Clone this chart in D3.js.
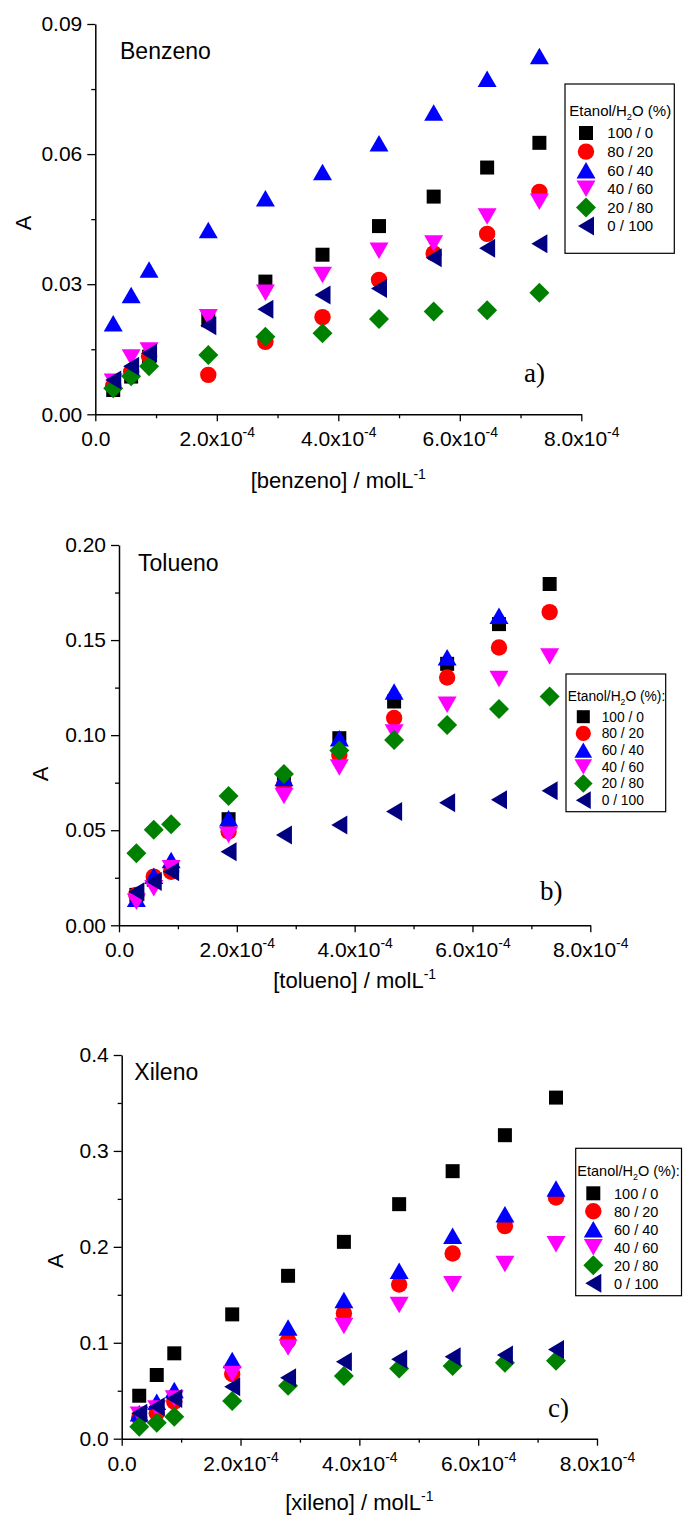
<!DOCTYPE html>
<html>
<head>
<meta charset="utf-8">
<script src="https://cdn.jsdelivr.net/npm/d3@7"></script>
<style>
  body { margin: 0; background: #fff; }
  svg { display: block; background: #fff; }
  text { font-family: "Liberation Sans", Arial, sans-serif; fill: #000; }
</style>
</head>
<body>
<svg id="chart" width="683" height="1528"></svg>
<script>
// Hydrocarbon concentration (mol/L), shared by all three panels
const concentrations = [2.95e-5, 5.9e-5, 8.85e-5, 1.86e-4, 2.80e-4, 3.74e-4, 4.67e-4, 5.57e-4, 6.45e-4, 7.31e-4];

// Ethanol / water mixtures (legend entries)
const mixtures = ["100 / 0", "80 / 20", "60 / 40", "40 / 60", "20 / 80", "0 / 100"];
const mixtureColors = ["#000000", "#ff0000", "#0000ff", "#ff00ff", "#008000", "#000080"];
const mixtureSymbols = ["square", "circle", "triangleUp", "triangleDown", "diamond", "triangleLeft"];

// Absorbance, benzene
const benzeno_100_0 = [0.0056, 0.0087, 0.0133, 0.0217, 0.0306, 0.0368, 0.0434, 0.0502, 0.0569, 0.0626];
const benzeno_80_20 = [0.0066, 0.0098, 0.0134, 0.0091, 0.0167, 0.0224, 0.0310, 0.0371, 0.0416, 0.0513];
const benzeno_60_40 = [0.0210, 0.0275, 0.0334, 0.0425, 0.0498, 0.0559, 0.0625, 0.0696, 0.0774, 0.0826];
const benzeno_40_60 = [0.0075, 0.0131, 0.0147, 0.0224, 0.0280, 0.0321, 0.0377, 0.0394, 0.0456, 0.0490];
const benzeno_20_80 = [0.0060, 0.0088, 0.0111, 0.0137, 0.0179, 0.0187, 0.0220, 0.0237, 0.0240, 0.0280];
const benzeno_0_100 = [0.0079, 0.0111, 0.0141, 0.0204, 0.0242, 0.0275, 0.0290, 0.0361, 0.0383, 0.0393];

// Absorbance, toluene
const tolueno_100_0 = [0.0160, 0.0240, 0.0300, 0.0558, 0.0770, 0.0984, 0.1177, 0.1375, 0.1584, 0.1795];
const tolueno_80_20 = [0.0160, 0.0256, 0.0282, 0.0493, 0.0738, 0.0896, 0.1090, 0.1303, 0.1461, 0.1647];
const tolueno_60_40 = [0.0139, 0.0260, 0.0344, 0.0563, 0.0774, 0.0984, 0.1230, 0.1410, 0.1628, null];
const tolueno_40_60 = [0.0124, 0.0195, 0.0300, 0.0475, 0.0680, 0.0830, 0.1014, 0.1160, 0.1295, 0.1414];
const tolueno_20_80 = [0.0379, 0.0502, 0.0532, 0.0680, 0.0796, 0.0919, 0.0975, 0.1054, 0.1137, 0.1203];
const tolueno_0_100 = [0.0177, 0.0230, 0.0282, 0.0387, 0.0475, 0.0528, 0.0598, 0.0645, 0.0660, 0.0708];

// Absorbance, xylene
const xileno_100_0 = [0.0448, 0.0664, 0.0890, 0.1296, 0.1698, 0.2052, 0.2445, 0.2789, 0.3164, 0.3556];
const xileno_80_20 = [0.0220, 0.0265, 0.0385, 0.0674, 0.1020, 0.1306, 0.1608, 0.1931, 0.2216, 0.2515];
const xileno_60_40 = [0.0265, 0.0385, 0.0507, 0.0820, 0.1160, 0.1445, 0.1750, 0.2115, 0.2340, 0.2608];
const xileno_40_60 = [0.0250, 0.0316, 0.0420, 0.0674, 0.0952, 0.1174, 0.1393, 0.1611, 0.1820, 0.2028];
const xileno_20_80 = [0.0125, 0.0167, 0.0229, 0.0393, 0.0552, 0.0653, 0.0733, 0.0757, 0.0792, 0.0813];
const xileno_0_100 = [0.0265, 0.0333, 0.0420, 0.0542, 0.0635, 0.0802, 0.0827, 0.0854, 0.0872, 0.0931];

// Tick values and labels
const xTicks = [0, 2e-4, 4e-4, 6e-4, 8e-4];
const xMinorTicks = [1e-4, 3e-4, 5e-4, 7e-4];
const xTickBase = ["0.0", "2.0x10", "4.0x10", "6.0x10", "8.0x10"];
const xTickExp = ["", "-4", "-4", "-4", "-4"];

const benzenoYTicks = [0, 0.03, 0.06, 0.09];
const benzenoYLabels = ["0.00", "0.03", "0.06", "0.09"];
const benzenoYMinor = [0.015, 0.045, 0.075];

const toluenoYTicks = [0, 0.05, 0.10, 0.15, 0.20];
const toluenoYLabels = ["0.00", "0.05", "0.10", "0.15", "0.20"];
const toluenoYMinor = [0.025, 0.075, 0.125, 0.175];

const xilenoYTicks = [0, 0.1, 0.2, 0.3, 0.4];
const xilenoYLabels = ["0.0", "0.1", "0.2", "0.3", "0.4"];
const xilenoYMinor = [0.05, 0.15, 0.25, 0.35];

// Panel layout
const panels = [
  {
    left: 95.3, right: 581.3, top: 24, bottom: 414.3, yMax: 0.09,
    yTicks: benzenoYTicks, yLabels: benzenoYLabels, yMinor: benzenoYMinor,
    series: [benzeno_100_0, benzeno_80_20, benzeno_60_40, benzeno_40_60, benzeno_20_80, benzeno_0_100],
    name: "Benzeno", nameX: 120, nameY: 59,
    xTitle: "[benzeno] / molL", xTitleY: 488, yTitleX: 30.5, yTitleY: 223,
    tag: "a)", tagX: 524, tagY: 382,
    legend: { x: 565, y: 84, w: 109.3, h: 169.3, title: "Etanol/H", titleRest: "O (%)", titleX: 569.3, titleY: 116,
              first: 133, step: 18.6, symX: 586, textX: 607.3, font: 15, sym: 1 }
  },
  {
    left: 119, right: 590.3, top: 545, bottom: 925.3, yMax: 0.20,
    yTicks: toluenoYTicks, yLabels: toluenoYLabels, yMinor: toluenoYMinor,
    series: [tolueno_100_0, tolueno_80_20, tolueno_60_40, tolueno_40_60, tolueno_20_80, tolueno_0_100],
    name: "Tolueno", nameX: 138, nameY: 570.7,
    xTitle: "[tolueno] / molL", xTitleY: 988, yTitleX: 48.3, yTitleY: 774,
    tag: "b)", tagX: 540, tagY: 900,
    legend: { x: 566, y: 674, w: 99.7, h: 137.7, title: "Etanol/H", titleRest: "O (%):", titleX: 567.7, titleY: 701,
              first: 716.7, step: 16.7, symX: 583.3, textX: 601.7, font: 13.8, sym: 0.93 }
  },
  {
    left: 121.7, right: 597, top: 1055, bottom: 1438.7, yMax: 0.4,
    yTicks: xilenoYTicks, yLabels: xilenoYLabels, yMinor: xilenoYMinor,
    series: [xileno_100_0, xileno_80_20, xileno_60_40, xileno_40_60, xileno_20_80, xileno_0_100],
    name: "Xileno", nameX: 134.3, nameY: 1080,
    xTitle: "[xileno] / molL", xTitleY: 1510, yTitleX: 63.3, yTitleY: 1261,
    tag: "c)", tagX: 548, tagY: 1417,
    legend: { x: 575.7, y: 1148.3, w: 105.8, h: 147.4, title: "Etanol/H", titleRest: "O (%):", titleX: 577.3, titleY: 1176,
              first: 1193.3, step: 18, symX: 593.3, textX: 614, font: 14.5, sym: 1 }
  }
];

// Marker outlines, centred on the data point
function markerPath(type, s) {
  switch (type) {
    case "square": { const h = 7 * s; return `M${-h},${-h}H${h}V${h}H${-h}Z`; }
    case "circle": { const r = 8.2 * s; return `M${-r},0A${r},${r} 0 1,0 ${r},0A${r},${r} 0 1,0 ${-r},0Z`; }
    case "triangleUp": { const w = 9.5 * s, h = 8.25 * s; return `M0,${-h}L${w},${h}L${-w},${h}Z`; }
    case "triangleDown": { const w = 9.5 * s, h = 8.25 * s; return `M0,${h}L${w},${-h}L${-w},${-h}Z`; }
    case "diamond": { const h = 10 * s; return `M0,${-h}L${h},0L0,${h}L${-h},0Z`; }
    case "triangleLeft": { const w = 8 * s, h = 9.5 * s; return `M${-w},0L${w},${-h}L${w},${h}Z`; }
  }
}

const svg = d3.select("#chart");

panels.forEach(p => {
  const x = d3.scaleLinear().domain([0, 8e-4]).range([p.left, p.right]);
  const y = d3.scaleLinear().domain([0, p.yMax]).range([p.bottom, p.top]);
  const g = svg.append("g");

  // Minor ticks
  g.append("g").attr("transform", `translate(0,${p.bottom})`)
    .call(d3.axisBottom(x).tickValues(xMinorTicks).tickSize(4).tickFormat(""))
    .call(a => a.select(".domain").remove())
    .selectAll("line").attr("stroke-width", 1.3);
  g.append("g").attr("transform", `translate(${p.left},0)`)
    .call(d3.axisLeft(y).tickValues(p.yMinor).tickSize(4).tickFormat(""))
    .call(a => a.select(".domain").remove())
    .selectAll("line").attr("stroke-width", 1.3);

  // Bottom axis with exponent labels
  const xa = g.append("g").attr("transform", `translate(0,${p.bottom})`)
    .call(d3.axisBottom(x).tickValues(xTicks).tickSize(7).tickSizeOuter(0).tickPadding(10)
      .tickFormat((d, i) => xTickBase[i]));
  xa.select(".domain").attr("stroke-width", 1.5);
  xa.selectAll("line").attr("stroke-width", 1.3);
  xa.selectAll("text")
    .attr("font-size", 21).attr("font-family", '"Liberation Sans", Arial, sans-serif')
    .each(function (d, i) {
      const t = d3.select(this);
      t.text(null);
      t.append("tspan").text(xTickBase[i]);
      if (xTickExp[i]) t.append("tspan").attr("font-size", 14).attr("dy", -9).text(xTickExp[i]);
    });

  // Left axis
  const ya = g.append("g").attr("transform", `translate(${p.left},0)`)
    .call(d3.axisLeft(y).tickValues(p.yTicks).tickSize(8).tickSizeOuter(0).tickPadding(5)
      .tickFormat((d, i) => p.yLabels[i]));
  ya.select(".domain").attr("stroke-width", 1.5);
  ya.selectAll("line").attr("stroke-width", 1.3);
  ya.selectAll("text").attr("font-size", 21).attr("font-family", '"Liberation Sans", Arial, sans-serif');

  // Axis titles
  const xt = g.append("text").attr("x", (p.left + p.right) / 2).attr("y", p.xTitleY)
    .attr("text-anchor", "middle").attr("font-size", 22);
  xt.append("tspan").text(p.xTitle);
  xt.append("tspan").attr("font-size", 14).attr("dy", -9).text("-1");

  g.append("text").attr("transform", `translate(${p.yTitleX},${p.yTitleY}) rotate(-90)`)
    .attr("text-anchor", "middle").attr("font-size", 22).text("A");

  // Compound name and panel tag
  g.append("text").attr("x", p.nameX).attr("y", p.nameY).attr("font-size", 23).text(p.name);
  g.append("text").attr("x", p.tagX).attr("y", p.tagY).attr("font-size", 27)
    .style("font-family", '"Liberation Serif", "Times New Roman", serif').text(p.tag);

  // Data markers, one group per mixture
  p.series.forEach((vals, si) => {
    const pts = concentrations.map((c, i) => ({ c, v: vals[i] })).filter(d => d.v != null);
    g.append("g").selectAll("path").data(pts).join("path")
      .attr("transform", d => `translate(${x(d.c)},${y(d.v)})`)
      .attr("d", markerPath(mixtureSymbols[si], 1))
      .attr("fill", mixtureColors[si]);
  });

  // Legend
  const L = p.legend;
  const lg = g.append("g");
  lg.append("rect").attr("x", L.x).attr("y", L.y).attr("width", L.w).attr("height", L.h)
    .attr("fill", "#fff").attr("stroke", "#000").attr("stroke-width", 1.2);
  const lt = lg.append("text").attr("x", L.titleX).attr("y", L.titleY).attr("font-size", L.font);
  lt.append("tspan").text(L.title);
  lt.append("tspan").attr("font-size", L.font * 0.62).attr("dy", 4).text("2");
  lt.append("tspan").attr("dy", -4).text(L.titleRest);
  mixtures.forEach((m, i) => {
    const cy = L.first + i * L.step;
    lg.append("path").attr("transform", `translate(${L.symX},${cy})`)
      .attr("d", markerPath(mixtureSymbols[i], L.sym)).attr("fill", mixtureColors[i]);
    lg.append("text").attr("x", L.textX).attr("y", cy + L.font * 0.36).attr("font-size", L.font).text(m);
  });
});
</script>
</body>
</html>
